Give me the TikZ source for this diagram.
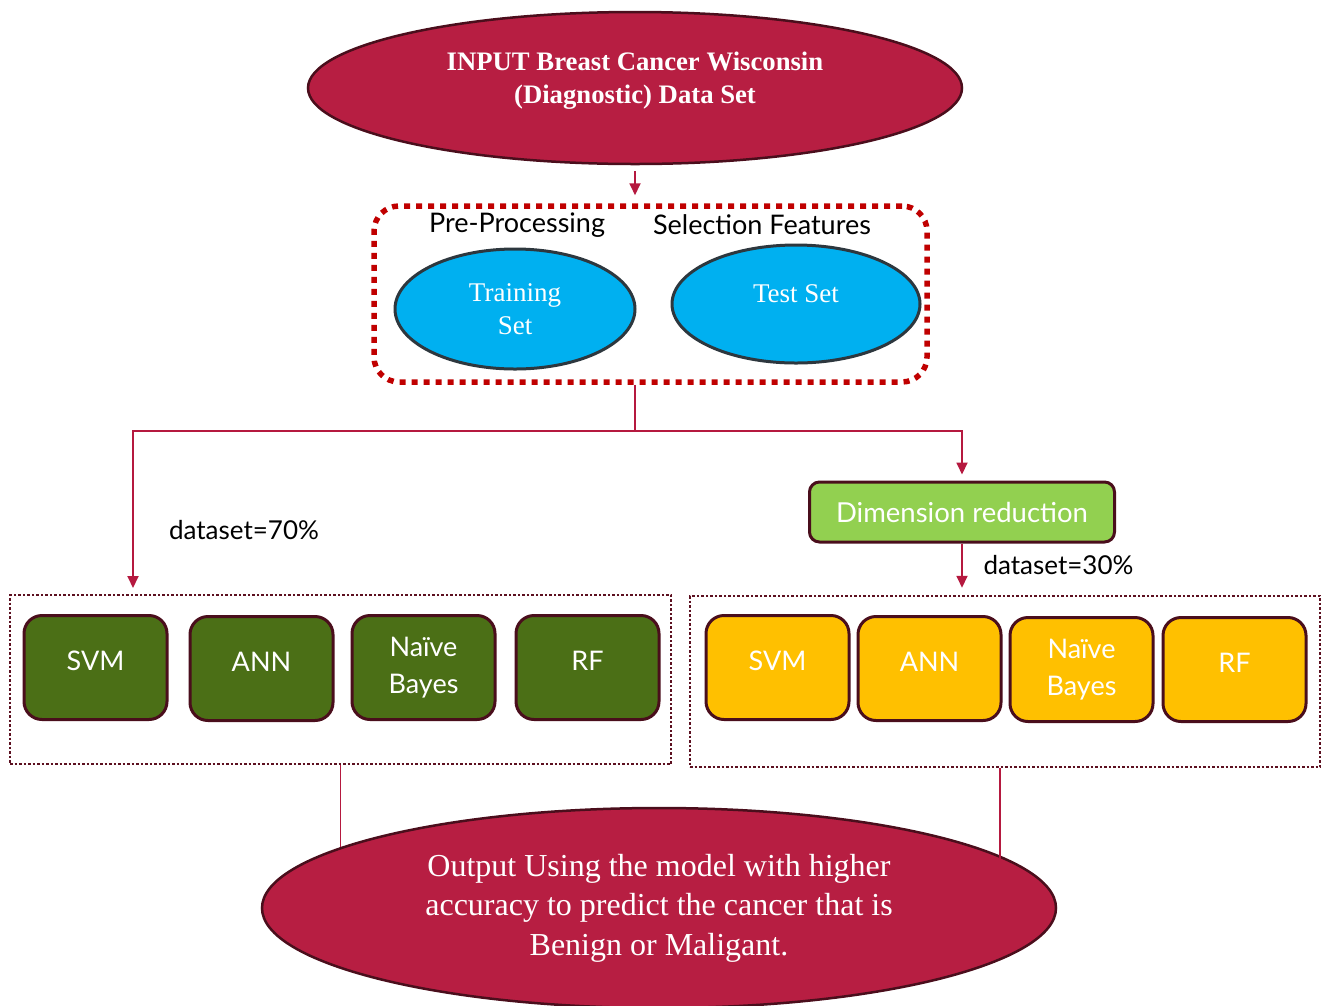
\documentclass[tikz,border=0pt]{standalone}
\usepackage{fontspec}
\setmainfont{Liberation Serif}
\newfontfamily\boxfont{Lato}
\usetikzlibrary{shapes.geometric,arrows.meta,calc}

\definecolor{crimson}{RGB}{183,30,66}
\definecolor{edgedark}{RGB}{74,14,28}
\definecolor{linecol}{RGB}{181,25,63}
\definecolor{skyfill}{RGB}{0,176,240}
\definecolor{skyedge}{RGB}{45,55,62}
\definecolor{olive}{RGB}{75,111,22}
\definecolor{lime}{RGB}{146,208,80}
\definecolor{amber}{RGB}{255,192,0}
\definecolor{dotred}{RGB}{192,0,0}
\definecolor{dotmaroon}{RGB}{92,16,32}

% single-line box labels sit a little above the box centre
\newcommand{\lifted}[1]{\raisebox{7pt}[\height][\depth]{#1}}

\tikzset{
  redoval/.style={ellipse, draw=edgedark, line width=2.5pt, fill=crimson, inner sep=0pt},
  skyoval/.style={ellipse, draw=skyedge, line width=3pt, fill=skyfill, inner sep=0pt,
    text=white, font=\fontsize{27}{33}\selectfont, align=center},
  algbox/.style={rectangle, rounded corners=18pt, draw=edgedark, line width=3pt,
    minimum width=143pt, minimum height=104pt, text=white, align=center,
    font=\boxfont\fontsize{27}{37}\selectfont},
  greenbox/.style={algbox, fill=olive},
  yellowbox/.style={algbox, fill=amber},
  groupframe/.style={rectangle, draw=dotmaroon, line width=2.5pt, dash pattern=on 2.5pt off 2pt},
  sanslabel/.style={font=\boxfont\fontsize{27}{30}\selectfont, text=black},
  splitlabel/.style={font=\boxfont\fontsize{26}{30}\selectfont, text=black},
  conn/.style={draw=linecol, line width=1.8pt},
  flow/.style={conn, -{Triangle[length=12pt,width=11pt]}},
}

\begin{document}
\begin{tikzpicture}[x=1pt,y=-1pt]
\useasboundingbox (0,0) rectangle (1327,1005);
\clip (0,0) rectangle (1327,1005);
\fill[white] (0,0) rectangle (1327,1005);

% input data set
\node[redoval, minimum width=654pt, minimum height=152pt,
  label={[text=white, align=center, yshift=7pt,
          font=\bfseries\fontsize{26.7}{33}\selectfont]center:{INPUT Breast Cancer Wisconsin\\(Diagnostic) Data Set}}]
  (input) at (635,88) {};

% pre-processing frame
\node[rectangle, rounded corners=25pt, draw=dotred, line width=5.5pt,
  dash pattern=on 6pt off 6pt, minimum width=553pt, minimum height=176pt]
  (prep) at (650.5,294) {};
\node[sanslabel] (preproc) at (517,225) {Pre-Processing};
\node[sanslabel] (selfeat) at (762,225) {Selection Features};
\node[skyoval, minimum width=240pt, minimum height=120pt] (train) at (515,309) {Training\\Set};
\node[skyoval, minimum width=248pt, minimum height=118pt,
  label={[text=white, yshift=10pt, font=\fontsize{27}{33}\selectfont]center:Test Set}]
  (test) at (796,304) {};

\draw[flow, shorten <=6pt, shorten >=8pt] (input.south) -- (input.south |- prep.north);

% split into the two branches
\coordinate (split) at (635,431);
\coordinate (lefttip) at (133,588);
\node[rectangle, rounded corners=10pt, draw=edgedark, line width=3pt, fill=lime,
  minimum width=305pt, minimum height=60pt, text=white,
  font=\boxfont\fontsize{27.5}{30}\selectfont] (dimred) at (962,512) {Dimension reduction};

\draw[conn] (prep.south -| split) -- (split);
\draw[flow] (split) -| (lefttip);
\draw[flow, shorten >=6pt] (split) -| (dimred.north);

\node[splitlabel] (ds70) at (244,530) {dataset=70\%};
\node[splitlabel, anchor=west] (ds30) at (980,565) {dataset=30\%};

% model groups
\node[groupframe, minimum width=661pt, minimum height=169pt] (leftbox) at (340.5,679.5) {};
\node[groupframe, minimum width=630pt, minimum height=171pt] (rightbox) at (1005,681.5) {};

\draw[flow, shorten >=7pt] (dimred.south) -- (dimred.south |- rightbox.north);

\node[greenbox] (svmA) at (95.5,667.5) {\lifted{SVM}};
\node[greenbox] (annA) at (261.5,668.5) {\lifted{ANN}};
\node[greenbox] (nbA) at (423.5,667.5) {Naïve\\Bayes};
\node[greenbox] (rfA) at (587.5,667.5) {\lifted{RF}};

\node[yellowbox] (svmB) at (777.5,667.5) {\lifted{SVM}};
\node[yellowbox] (annB) at (929.5,668.5) {\lifted{ANN}};
\node[yellowbox] (nbB) at (1081.5,669.5) {Naïve\\Bayes};
\node[yellowbox] (rfB) at (1234.5,669.5) {\lifted{RF}};

% output
\node[redoval, minimum width=794pt, minimum height=200pt, text=white, align=center,
  font=\fontsize{32}{39.5}\selectfont] (output) at (659,908)
  {Output Using the model with higher\\accuracy to predict the cancer that is\\Benign or Maligant.};

\draw[conn] (leftbox.south) -- (leftbox.south |- output.169);
\draw[conn] ($(rightbox.south)+(-5,0)$) -- ($(rightbox.south |- output.8.5)+(-5,0)$);
\end{tikzpicture}
\end{document}
